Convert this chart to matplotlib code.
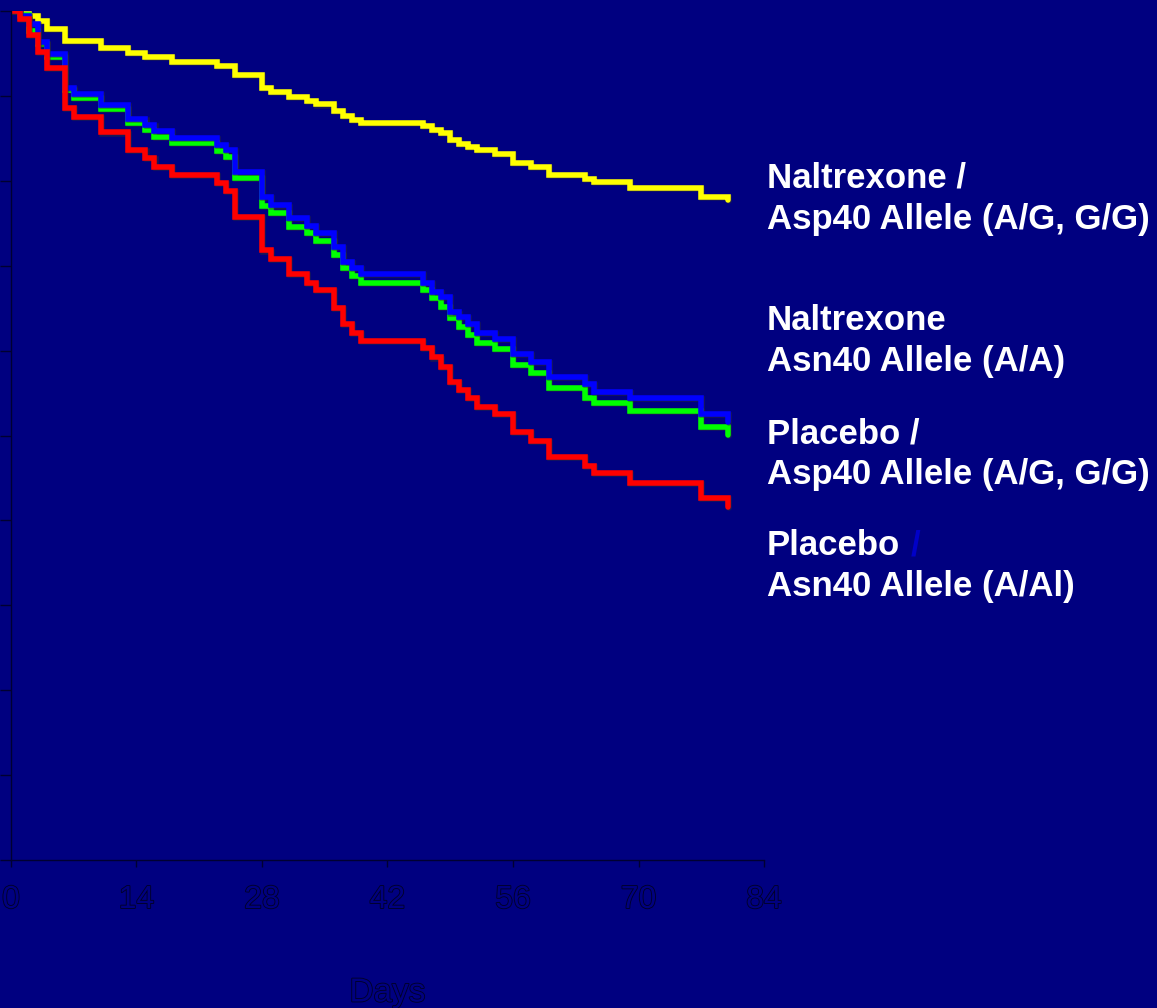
import matplotlib
matplotlib.use("Agg")
import matplotlib.pyplot as plt
import matplotlib.patheffects as pe

# ---- data ----
days = [0, 1, 2, 3, 4, 6, 7, 10, 13, 15, 16, 18, 23, 24, 25, 28, 29, 31, 33, 34,
        36, 37, 38, 39, 46, 47, 48, 49, 50, 51, 52, 54, 56, 58, 60, 64, 65, 69, 77, 80]

nal_asp = [1.0, 0.997, 0.994, 0.988, 0.979, 0.965, 0.965, 0.956, 0.951, 0.946,
           0.946, 0.940, 0.935, 0.935, 0.925, 0.909, 0.905, 0.899, 0.894, 0.890,
           0.882, 0.876, 0.872, 0.868, 0.865, 0.860, 0.856, 0.848, 0.843, 0.840,
           0.836, 0.832, 0.821, 0.816, 0.807, 0.802, 0.799, 0.792, 0.781, 0.777]

nal_asn = [1.0, 0.994, 0.985, 0.963, 0.949, 0.909, 0.902, 0.889, 0.873, 0.866,
           0.859, 0.850, 0.842, 0.836, 0.810, 0.781, 0.771, 0.756, 0.747, 0.739,
           0.722, 0.704, 0.697, 0.690, 0.680, 0.669, 0.663, 0.645, 0.640, 0.631,
           0.621, 0.614, 0.596, 0.587, 0.569, 0.561, 0.551, 0.544, 0.525, 0.516]

pla_asp = [1.0, 0.995, 0.976, 0.961, 0.946, 0.907, 0.898, 0.885, 0.868, 0.860,
           0.852, 0.845, 0.835, 0.828, 0.803, 0.770, 0.762, 0.746, 0.739, 0.729,
           0.713, 0.697, 0.688, 0.680, 0.671, 0.662, 0.651, 0.638, 0.628, 0.618,
           0.609, 0.602, 0.583, 0.574, 0.556, 0.544, 0.538, 0.529, 0.510, 0.501]

pla_asn = [1.0, 0.991, 0.972, 0.952, 0.933, 0.886, 0.875, 0.857, 0.836, 0.827,
           0.816, 0.807, 0.797, 0.788, 0.757, 0.718, 0.708, 0.690, 0.680, 0.671,
           0.650, 0.631, 0.621, 0.611, 0.603, 0.592, 0.581, 0.563, 0.554, 0.544,
           0.534, 0.525, 0.504, 0.494, 0.475, 0.464, 0.456, 0.444, 0.426, 0.416]

x_ticks = [0, 14, 28, 42, 56, 70, 84]
y_ticks = [0.0, 0.1, 0.2, 0.3, 0.4, 0.5, 0.6, 0.7, 0.8, 0.9, 1.0]
x_label = "Days"

labels = [
    ("Naltrexone /", "Asp40 Allele (A/G, G/G)"),
    ("Naltrexone", "Asn40 Allele (A/A)"),
    ("Placebo /", "Asp40 Allele (A/G, G/G)"),
    ("Placebo", "Asn40 Allele (A/Al)"),
]

BG = "#000080"
W, H = 1157, 1008
fig = plt.figure(figsize=(W / 100, H / 100), dpi=100, facecolor=BG)
ax = fig.add_axes([11 / W, 148 / H, 753 / W, 849 / H], facecolor=BG)

shadow = [pe.SimpleLineShadow(offset=(0.8, -0.8), shadow_color="#303030", alpha=0.5), pe.Normal()]
for vals, col in [(nal_asp, "#FFFF00"), (pla_asp, "#00FF00"), (nal_asn, "#0000FF"), (pla_asn, "#FF0000")]:
    ax.step(days, vals, where="post", color=col, lw=4.0,
            solid_capstyle="round", solid_joinstyle="miter", path_effects=shadow)

ax.set_xlim(0, 84)
ax.set_ylim(0, 1.0)
for s in ["top", "right"]:
    ax.spines[s].set_visible(False)
for s in ["left", "bottom"]:
    ax.spines[s].set_color("#000030")
    ax.spines[s].set_linewidth(1.0)

ax.set_xticks(x_ticks)
ax.set_yticks(y_ticks)
ax.set_yticklabels([])
ax.tick_params(axis="y", direction="out", length=8, color="#000030", width=1)
ax.tick_params(axis="x", direction="out", length=5, color="#000030", width=1, pad=13)

outline = [pe.Stroke(linewidth=1.3, foreground="#00002a"), pe.Normal()]
ax.set_xticklabels([str(t) for t in x_ticks], fontsize=23, color=BG,
                   family=["Liberation Sans Narrow", "Liberation Sans", "DejaVu Sans"],
                   path_effects=outline)
ax.set_xlabel(x_label, fontsize=24, color=BG,
              family=["Liberation Sans Narrow", "Liberation Sans", "DejaVu Sans"],
              labelpad=45, path_effects=outline)

baselines = [(188, 229), (330, 371), (443, 484), (555, 596)]
fam = ["Liberation Sans", "DejaVu Sans"]
for (l1, l2), (b1, b2) in zip(labels, baselines):
    if l1 == "Placebo":
        t = fig.text(767 / W, 1 - b1 / H, l1, color="white", fontsize=25,
                     fontweight="bold", family=fam, va="baseline", ha="left")
        fig.canvas.draw()
        bb = t.get_window_extent()
        fig.text((bb.x1 + 10) / W, 1 - b1 / H, "/", color="#0000C8", fontsize=25,
                 fontweight="bold", family=fam, va="baseline", ha="left")
    else:
        fig.text(767 / W, 1 - b1 / H, l1, color="white", fontsize=25,
                 fontweight="bold", family=fam, va="baseline", ha="left")
    fig.text(767 / W, 1 - b2 / H, l2, color="white", fontsize=25,
             fontweight="bold", family=fam, va="baseline", ha="left")

fig.savefig("out.png", dpi=100, facecolor=BG)
